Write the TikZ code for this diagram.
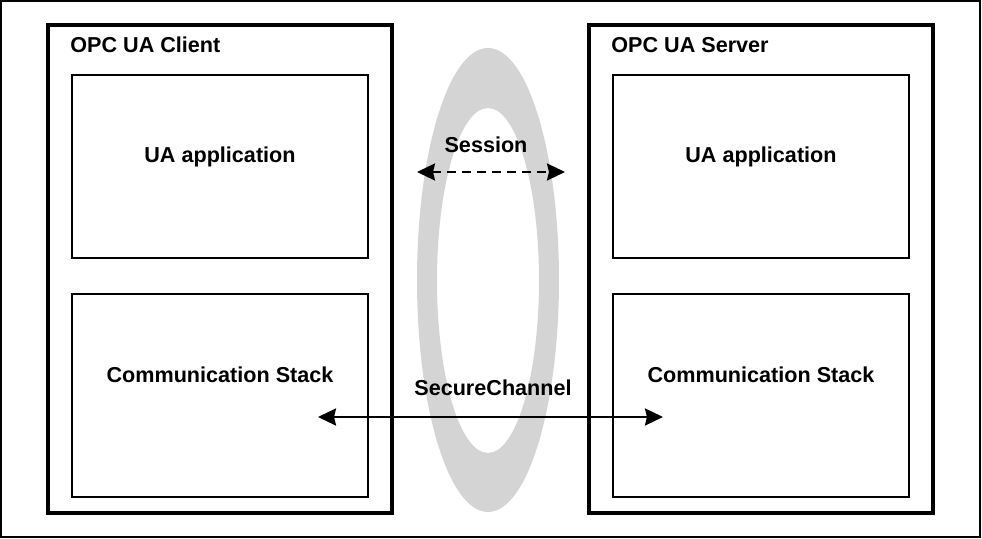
\documentclass[tikz,border=0pt]{standalone}
\usepackage{fontspec}
\setmainfont{Liberation Sans}
\usetikzlibrary{arrows.meta}
\definecolor{ringgray}{RGB}{212,212,212}

\begin{document}
\begin{tikzpicture}[x=0.5pt,y=-0.5pt,
  label text/.style={font=\fontsize{10.8}{13}\selectfont\bfseries, inner sep=0pt},
  frame box/.style={line width=1.7pt},
  inner box/.style={line width=0.8pt},
  link/.style={line width=1.2pt, {Stealth[length=9pt,width=8.5pt,inset=1pt]}-{Stealth[length=9pt,width=8.5pt,inset=1pt]}}]
\useasboundingbox (0,0) rectangle (982,539);
\draw[line width=0.7pt] (1,1) rectangle (980,537);
% ring round the session
\fill[ringgray, even odd rule] (488,280) ellipse [x radius=71, y radius=232]
  (488,280.5) ellipse [x radius=51, y radius=172.5];
% client and server
\foreach \xo/\side/\name in {0/client/Client,541/server/Server}{
\draw[frame box] (48+\xo,25) rectangle (392+\xo,513);
\draw[inner box] (72+\xo,75) rectangle (368+\xo,258);
\draw[inner box] (72+\xo,294) rectangle (368+\xo,497);
\node (\side-title) at (70+\xo,53) [anchor=base west, label text]{OPC UA \name};
\node (\side-app) at (220+\xo,163) [anchor=base, label text]{UA application};
\node (\side-stack) at (220+\xo,383) [anchor=base, label text]{Communication Stack};}
% session
\node (session) at (486,153) [anchor=base, label text]{Session};
\coordinate (sess-l) at (417,172);
\coordinate (sess-r) at (565,172);
\draw[link, dash pattern=on 4.5pt off 3pt] (sess-l) -- (sess-r);
% secure channel
\node (channel) at (493,396) [anchor=base, label text]{SecureChannel};
\coordinate (chan-l) at (318,417);
\coordinate (chan-r) at (663,417);
\draw[link] (chan-l) -- (chan-r);
\end{tikzpicture}
\end{document}
